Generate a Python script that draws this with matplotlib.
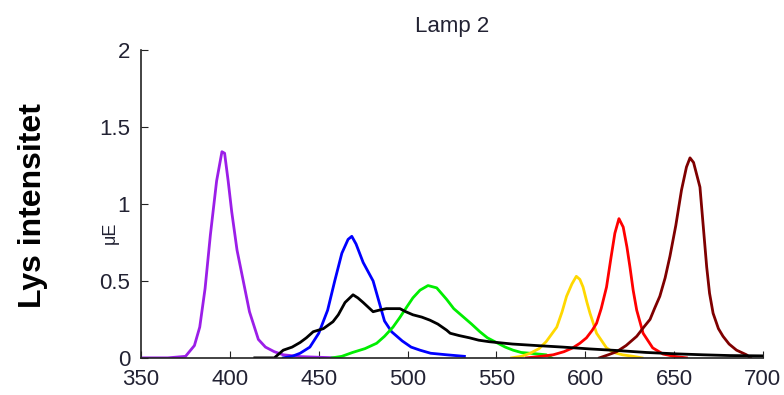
import matplotlib
matplotlib.use('Agg')
import matplotlib.pyplot as plt

# spectra (wavelength nm, intensity uE)
violet_wl = [350, 365, 375, 380, 383, 386, 389, 392.5, 395.5, 397, 399, 401, 404, 407.5, 411, 416, 420, 425, 430, 440, 460]
violet_y = [0, 0, 0.01, 0.08, 0.2, 0.45, 0.8, 1.15, 1.34, 1.33, 1.15, 0.95, 0.7, 0.5, 0.3, 0.12, 0.07, 0.04, 0.02, 0.008, 0]

blue_wl = [430, 435, 439.5, 445, 450, 455, 459, 463, 466.5, 468.6, 471, 475, 480.6, 487, 491, 497, 502, 507, 513, 522, 532]
blue_y = [0, 0.01, 0.03, 0.07, 0.16, 0.31, 0.5, 0.68, 0.77, 0.79, 0.74, 0.62, 0.5, 0.24, 0.17, 0.11, 0.07, 0.05, 0.03, 0.02, 0.01]

green_wl = [457.5, 463, 469, 476, 482.6, 487, 491.8, 495.5, 499.5, 503, 507, 511.5, 516.4, 522, 526, 531, 536, 540.7, 545, 550, 555, 559.4, 564, 569, 578, 581]
green_y = [0, 0.01, 0.035, 0.06, 0.095, 0.14, 0.2, 0.26, 0.33, 0.39, 0.44, 0.47, 0.455, 0.38, 0.32, 0.27, 0.22, 0.17, 0.13, 0.1, 0.07, 0.05, 0.035, 0.03, 0.02, 0.0]

yellow_wl = [558.5, 564, 569, 574, 578, 584, 587, 589.5, 592.5, 595, 597, 598.8, 601, 602.7, 606.4, 612, 616, 621, 627, 632]
yellow_y = [0, 0.01, 0.03, 0.06, 0.105, 0.2, 0.3, 0.4, 0.48, 0.53, 0.51, 0.46, 0.36, 0.29, 0.16, 0.065, 0.035, 0.02, 0.01, 0]

red_wl = [567, 575, 582, 588, 593, 597, 600.7, 604, 606.4, 609, 612, 614.5, 616.7, 619, 621.4, 623.5, 625.2, 627, 629, 632.6, 638, 643.8, 650, 657]
red_y = [0, 0.01, 0.02, 0.04, 0.065, 0.095, 0.13, 0.18, 0.225, 0.32, 0.46, 0.65, 0.81, 0.905, 0.85, 0.72, 0.59, 0.44, 0.31, 0.16, 0.065, 0.025, 0.01, 0]

darkred_wl = [608, 613, 617.7, 623, 629, 633, 636.5, 639, 642, 645, 647.7, 651, 654.2, 657, 659, 661, 664.6, 666.5, 668.4, 670, 672, 675, 677.6, 681, 685.2, 690.8, 693]
darkred_y = [0, 0.02, 0.04, 0.08, 0.14, 0.2, 0.25, 0.32, 0.4, 0.52, 0.66, 0.86, 1.09, 1.24, 1.3, 1.27, 1.11, 0.85, 0.59, 0.42, 0.29, 0.19, 0.14, 0.09, 0.05, 0.02, 0]

black_wl = [414, 425, 430, 435, 439.5, 443, 446.9, 452.6, 458, 461, 464.8, 469.3, 472, 475, 480.6, 484, 488, 495.7, 499, 503, 508, 512.6, 517, 522, 524, 529, 535, 540, 546, 559, 572.7, 587.5, 602.7, 617.7, 634.6, 651.5, 666.3, 681.5, 700]
black_y = [0, 0.0, 0.05, 0.07, 0.1, 0.13, 0.17, 0.19, 0.235, 0.28, 0.36, 0.41, 0.39, 0.36, 0.3, 0.31, 0.32, 0.32, 0.3, 0.28, 0.265, 0.245, 0.22, 0.18, 0.16, 0.145, 0.13, 0.115, 0.105, 0.09, 0.08, 0.07, 0.058, 0.048, 0.035, 0.026, 0.02, 0.015, 0.013]

series = [
    (violet_wl, violet_y, '#9b1ee8'),
    (blue_wl, blue_y, '#0000ff'),
    (green_wl, green_y, '#00ee00'),
    (yellow_wl, yellow_y, '#ffd800'),
    (red_wl, red_y, '#ff0000'),
    (darkred_wl, darkred_y, '#7f0000'),
    (black_wl, black_y, '#000000'),
]

xticks = [350, 400, 450, 500, 550, 600, 650, 700]
yticks = [0, 0.5, 1, 1.5, 2]
ytick_labels = ['0', '0.5', '1', '1.5', '2']

plt.rcParams['font.family'] = ['Liberation Sans', 'DejaVu Sans']

fig = plt.figure(figsize=(7.84, 3.95), dpi=100)
ax = fig.add_axes([0.18, 0.094, 0.793, 0.779])

for wl, y, c in series:
    ax.plot(wl, y, color=c, linewidth=2.0)

ax.set_xlim(350, 700)
ax.set_ylim(0, 2)
ax.set_xticks(xticks)
ax.set_yticks(yticks)
ax.set_yticklabels(ytick_labels)
ax.tick_params(direction='in', length=5, labelsize=16, colors='#222222', labelcolor='#222233')
ax.tick_params(axis='x', pad=8)
ax.tick_params(axis='y', pad=8)
ax.spines['top'].set_visible(False)
ax.spines['right'].set_visible(False)
for s in ['left', 'bottom']:
    ax.spines[s].set_linewidth(1.2)
    ax.spines[s].set_color('#222222')

ax.set_title('Lamp 2', fontsize=16, color='#222233', pad=13)
fig.text(0.141, 0.41, 'μE', rotation=90, fontsize=13, color='#222233', ha='center', va='center')
fig.text(0.042, 0.48, 'Lys intensitet', rotation=90, fontsize=23, fontweight='bold', ha='center', va='center')

plt.savefig('out.png', dpi=100)
plt.close()
